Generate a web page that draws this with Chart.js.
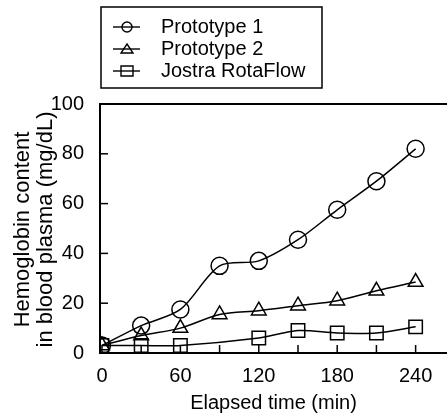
<!DOCTYPE html>
<html lang="en">
<head>
  <meta charset="utf-8">
  <title>Hemoglobin content in blood plasma</title>
  <script src="https://cdn.jsdelivr.net/npm/chart.js@4.4.0/dist/chart.umd.min.js"></script>
  <style>
    html, body { margin: 0; padding: 0; background: #fff; }
    #wrap { width: 447px; height: 419px; }
  </style>
</head>
<body>
<div id="wrap"><canvas id="hb-canvas" width="447" height="419"></canvas></div>
<script>
var times = [0, 30, 60, 90, 120, 150, 180, 210, 240];
var proto1 = [3, 11, 17.5, 35, 37, 45.5, 57.5, 69, 82];
var proto2 = [3, 7, 10, 15.5, 17, 19, 21, 25, 28.5];
var jostraTimes = [0, 30, 60, 120, 150, 180, 210, 240];
var jostra = [3, 3, 3, 6, 9, 8, 8, 10.5];
var seriesNames = ["Prototype 1", "Prototype 2", "Jostra RotaFlow"];
var seriesMarkers = ["circle", "triangle", "rect"];
var xTicks = [0, 30, 60, 90, 120, 150, 180, 210, 240];
var yTicks = [0, 20, 40, 60, 80, 100];
var yTitle = ["Hemoglobin content", "in blood plasma (mg/dL)"];

var FONT = "'Liberation Sans', Arial, sans-serif";

function toPoints(xs, ys) {
  var pts = [];
  for (var i = 0; i < xs.length; i++) pts.push({x: xs[i], y: ys[i]});
  return pts;
}

function makeSet(label, pts, marker, radius) {
  return {
    label: label,
    data: pts,
    borderColor: "#000",
    borderWidth: 1.5,
    backgroundColor: "rgba(0,0,0,0)",
    pointStyle: marker,
    pointRadius: radius,
    pointBorderWidth: 1.5,
    pointBorderColor: "#000",
    pointBackgroundColor: "rgba(0,0,0,0)",
    tension: 0.3,
    fill: false
  };
}

// inward tick marks, top frame line, y title and the boxed legend
var framePlugin = {
  id: "frame",
  afterDraw: function(chart) {
    var ctx = chart.ctx;
    var a = chart.chartArea;
    var xs = chart.scales.x, ys = chart.scales.y;
    ctx.save();
    ctx.strokeStyle = "#000";
    ctx.lineWidth = 2;
    ctx.beginPath();
    ctx.moveTo(a.left, a.top); ctx.lineTo(a.right, a.top);
    ctx.stroke();
    ctx.lineWidth = 1.5;
    xTicks.forEach(function(v) {
      var px = xs.getPixelForValue(v);
      ctx.beginPath(); ctx.moveTo(px, a.bottom); ctx.lineTo(px, a.bottom - 8); ctx.stroke();
    });
    yTicks.forEach(function(v) {
      var py = ys.getPixelForValue(v);
      ctx.beginPath(); ctx.moveTo(a.left, py); ctx.lineTo(a.left + 8, py); ctx.stroke();
    });

    // y axis title, two rotated lines centred on the plot
    ctx.fillStyle = "#000";
    ctx.font = "22px " + FONT;
    ctx.textAlign = "center";
    ctx.textBaseline = "middle";
    var cy = (a.top + a.bottom) / 2 + 1;
    for (var k = 0; k < yTitle.length; k++) {
      ctx.save();
      ctx.translate(23 + k * 23, cy);
      ctx.rotate(-Math.PI / 2);
      ctx.fillText(yTitle[k], 0, 0);
      ctx.restore();
    }

    // legend
    var bx = 101, by = 7, bw = 221, bh = 81;
    ctx.lineWidth = 1.5;
    ctx.strokeRect(bx, by, bw, bh);
    ctx.font = "20px " + FONT;
    ctx.textAlign = "left";
    ctx.textBaseline = "middle";
    for (var i = 0; i < seriesNames.length; i++) {
      var ly = 27 + i * 22;
      ctx.lineWidth = 1.4;
      ctx.beginPath(); ctx.moveTo(113, ly); ctx.lineTo(140, ly); ctx.stroke();
      drawMarker(ctx, seriesMarkers[i], 127, ly);
      ctx.fillText(seriesNames[i], 161, ly);
    }
    ctx.restore();
  }
};

function drawMarker(ctx, kind, x, y) {
  ctx.beginPath();
  if (kind === "circle") {
    ctx.arc(x, y, 5, 0, Math.PI * 2);
  } else if (kind === "triangle") {
    ctx.moveTo(x, y - 5); ctx.lineTo(x + 6, y + 4); ctx.lineTo(x - 6, y + 4); ctx.closePath();
  } else {
    ctx.rect(x - 6, y - 5, 12, 10);
  }
  ctx.stroke();
}

new Chart(document.getElementById("hb-canvas"), {
  type: "line",
  data: {
    datasets: [
      makeSet(seriesNames[0], toPoints(times, proto1), "circle", 8.5),
      makeSet(seriesNames[1], toPoints(times, proto2), "triangle", 8.5),
      makeSet(seriesNames[2], toPoints(jostraTimes, jostra), "rect", 9.5)
    ]
  },
  options: {
    responsive: false,
    animation: false,
    layout: { autoPadding: false, padding: { top: 104, right: 0, left: 0, bottom: 0 } },
    plugins: { legend: { display: false }, tooltip: { enabled: false } },
    scales: {
      x: {
        type: "linear",
        min: -1.5,
        max: 264,
        afterBuildTicks: function(scale) {
          scale.ticks = xTicks.map(function(v) { return {value: v}; });
        },
        afterFit: function(scale) {
          scale.height = 66;
          scale.paddingLeft = 0;
          scale.paddingRight = 0;
        },
        border: { display: true, color: "#000", width: 2 },
        grid: { display: false },
        ticks: {
          autoSkip: false,
          maxRotation: 0,
          color: "#000",
          font: { family: FONT, size: 20 },
          padding: 3,
          callback: function(v) { return v % 60 === 0 ? v : ""; }
        },
        title: {
          display: true,
          text: "Elapsed time (min)",
          color: "#000",
          font: { family: FONT, size: 20 },
          padding: { top: 6 }
        }
      },
      y: {
        min: 0,
        max: 100,
        afterBuildTicks: function(scale) {
          scale.ticks = yTicks.map(function(v) { return {value: v}; });
        },
        afterFit: function(scale) {
          scale.width = 100;
          scale.paddingTop = 0;
          scale.paddingBottom = 0;
        },
        border: { display: true, color: "#000", width: 2 },
        grid: { display: false },
        ticks: {
          color: "#000",
          font: { family: FONT, size: 20 },
          padding: 8
        },
        title: { display: false }
      }
    }
  },
  plugins: [framePlugin]
});
</script>
</body>
</html>
